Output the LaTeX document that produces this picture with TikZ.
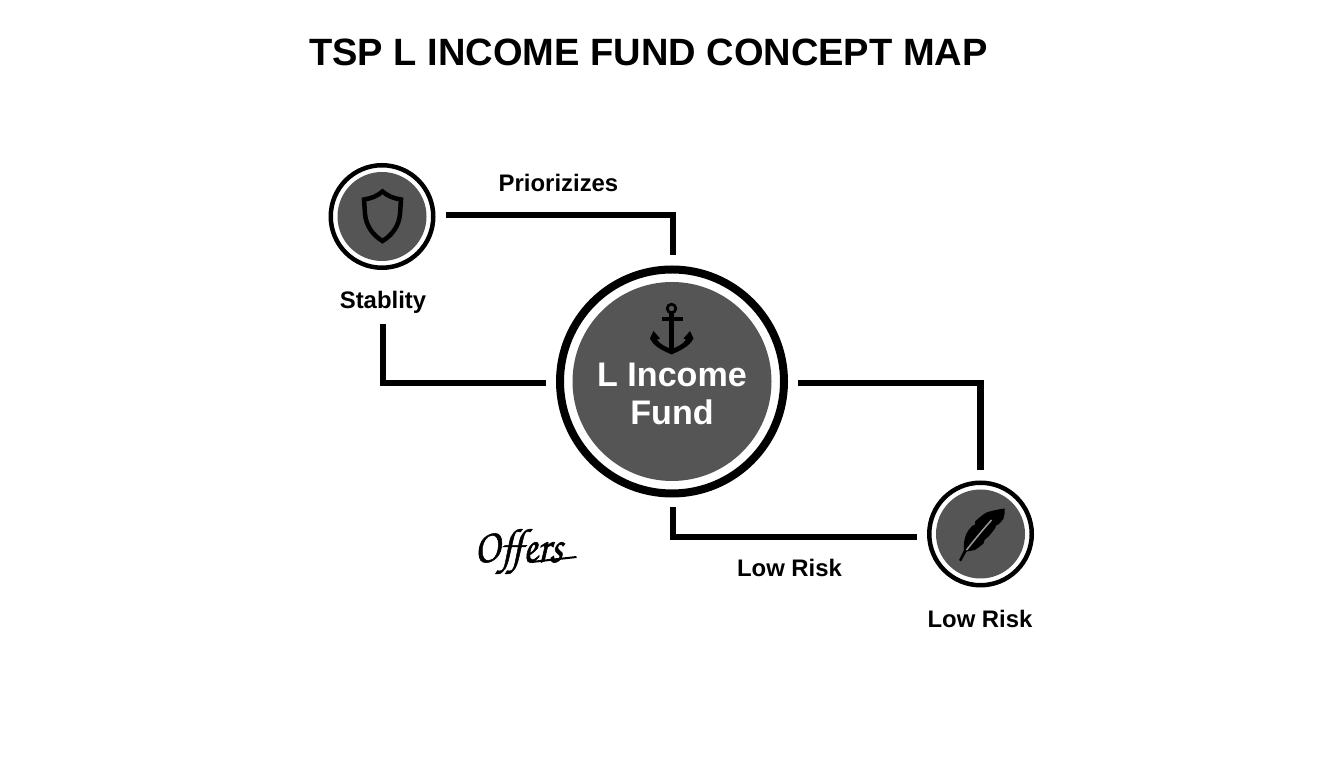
\documentclass[tikz,border=0pt]{standalone}
\usepackage{fontspec}
\setmainfont{Liberation Sans}
\newfontfamily\offersfont[FakeBold=1.2]{TeX Gyre Chorus}
\definecolor{discgray}{HTML}{555555}
\tikzset{
	ringbig/.style={circle, draw=black, line width=0.16cm, minimum size=4.48cm, inner sep=0pt},
	discbig/.style={circle, fill=discgray, minimum size=3.98cm, inner sep=0pt},
	ringsmall/.style={circle, draw=black, line width=0.09cm, minimum size=2.05cm, inner sep=0pt},
	discsmall/.style={circle, fill=discgray, minimum size=1.78cm, inner sep=0pt},
	link/.style={line width=0.125cm, shorten <=0.2cm, shorten >=0.2cm},
	lbl/.style={font=\bfseries\fontsize{13.6}{16}\selectfont, inner sep=0pt},
}

\begin{document}
\begin{tikzpicture}
	%%%%% START %%%%%
	\useasboundingbox (0, 0) rectangle (26.88, 15.36);

	\node[font=\bfseries\fontsize{21.65}{26}\selectfont, inner sep=0pt] (title) at (12.97, 14.31) {TSP L INCOME FUND CONCEPT MAP};

	\node[ringbig] (main) at (13.44, 7.73) {};
	\node[discbig] (maindisc) at (13.44, 7.73) {};
	\node[ringsmall] (stability) at (7.64, 11.03) {};
	\node[discsmall] (stabilitydisc) at (7.64, 11.03) {};
	\node[ringsmall] (lowrisk) at (19.61, 4.68) {};
	\node[discsmall] (lowriskdisc) at (19.61, 4.68) {};

	\node[lbl, text=white, font=\bfseries\fontsize{19.4}{24}\selectfont] (mainone) at (13.44, 7.86) {L Income};
	\node[lbl, text=white, font=\bfseries\fontsize{19.4}{24}\selectfont] (maintwo) at (13.44, 7.12) {Fund};
	\node[lbl] (stabilitylabel) at (7.66, 9.31) {Stablity};
	\node[lbl] (lowrisklabel) at (19.6, 2.98) {Low Risk};
	\node[lbl] (riskedge) at (15.79, 4.01) {Low Risk};
	\node[lbl] (priorizes) at (11.17, 11.71) {Priorizizes};
	\node[inner sep=0pt, yscale=1.15, transform shape, font=\offersfont\fontsize{24}{28}\selectfont] (offers) at (10.37, 4.33) {Offers};

	\draw[link] ([yshift=0.035cm]stability.east) -| ([xshift=0.02cm]main.north);
	\draw[link] (stabilitylabel.south) |- ([yshift=-0.03cm]main.west);
	\draw[link] ([yshift=-0.03cm]main.east) -| (lowrisk.north);
	\draw[link] ([xshift=0.02cm]main.south) |- ([yshift=-0.06cm]lowrisk.west);

	% shield
	\draw[line width=0.09cm] (7.65, 11.53) .. controls (7.55, 11.44) and (7.42, 11.39) .. (7.28, 11.37)
		-- (7.3, 11.08) .. controls (7.32, 10.85) and (7.45, 10.66) .. (7.65, 10.54)
		.. controls (7.85, 10.66) and (7.98, 10.85) .. (8.0, 11.08) -- (8.02, 11.37)
		.. controls (7.88, 11.39) and (7.75, 11.44) .. (7.65, 11.53) -- cycle;

	% anchor
	\draw[line width=0.055cm] (13.43, 9.19) circle (0.086);
	\draw[line width=0.09cm] (13.43, 9.1) -- (13.43, 8.3);
	\draw[line width=0.08cm] (13.23, 8.97) -- (13.65, 8.97);
	\fill (13.0, 8.59) -- (13.07, 8.74) -- (13.2, 8.59) -- (13.14, 8.57)
		.. controls (13.2, 8.47) and (13.32, 8.42) .. (13.43, 8.38)
		.. controls (13.54, 8.42) and (13.66, 8.47) .. (13.72, 8.57)
		-- (13.67, 8.59) -- (13.8, 8.74) -- (13.87, 8.59)
		.. controls (13.78, 8.42) and (13.6, 8.35) .. (13.43, 8.27)
		.. controls (13.26, 8.35) and (13.08, 8.42) .. (13.0, 8.59) -- cycle;

	% feather
	\fill (20.09, 5.19) .. controls (19.95, 5.17) and (19.85, 5.15) .. (19.73, 5.11)
		.. controls (19.63, 5.05) and (19.58, 5.0) .. (19.5, 4.93)
		-- (19.5, 4.87) -- (19.44, 4.84)
		.. controls (19.38, 4.77) and (19.35, 4.73) .. (19.33, 4.69)
		.. controls (19.28, 4.58) and (19.27, 4.47) .. (19.28, 4.36)
		-- (19.18, 4.16) -- (19.22, 4.13) -- (19.33, 4.33)
		.. controls (19.4, 4.34) and (19.45, 4.35) .. (19.5, 4.36)
		.. controls (19.56, 4.4) and (19.62, 4.45) .. (19.67, 4.49)
		-- (19.69, 4.56) -- (19.77, 4.63)
		.. controls (19.82, 4.68) and (19.86, 4.74) .. (19.9, 4.79)
		-- (19.92, 4.85) -- (19.98, 4.88)
		.. controls (20.03, 4.93) and (20.05, 4.96) .. (20.07, 4.99)
		.. controls (20.09, 5.05) and (20.1, 5.12) .. (20.09, 5.19) -- cycle;
	\draw[line width=0.03cm, color=black!40] (19.33, 4.36) .. controls (19.48, 4.55) and (19.65, 4.76) .. (19.83, 4.96);

	% flourish under the script word
	\draw[line width=0.04cm] (10.63, 4.12) -- (11.53, 4.22);

	%%%%% END %%%%%
\end{tikzpicture}
\end{document}
